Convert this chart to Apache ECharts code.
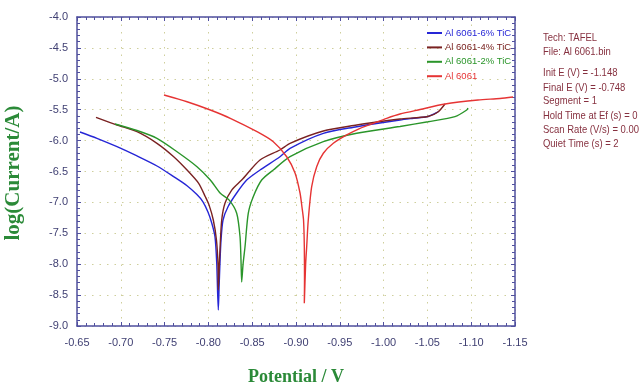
<!DOCTYPE html>
<html><head><meta charset="utf-8">
<script src="https://cdn.jsdelivr.net/npm/echarts@6/dist/echarts.min.js"></script>
<style>html,body{margin:0;padding:0;background:#fff}#c{width:639px;height:388px}</style>
</head><body><div id="c"></div>
<script>
// ---- data (potential in V, log of current in A) ----
const seriesNames = ['Al 6061-6% TiC', 'Al 6061-4% TiC', 'Al 6061-2% TiC', 'Al 6061'];
const seriesColors = ['#2626d6', '#7a2222', '#2a952a', '#e63434'];

const tic6E = [-0.6534,-0.6728,-0.6957,-0.7185,-0.7413,-0.7604,-0.7756,-0.7866,-0.7938,-0.7995,-0.8038,-0.8075,-0.8095,-0.8113,-0.8121,-0.8132,-0.8144,-0.8167,-0.8224,-0.8323,-0.8437,-0.8589,-0.8817,-0.8932,-0.9312,-0.9693,-0.9882,-1.0187,-1.0324,-1.0507,-1.0621];
const tic6L = [-5.861,-5.963,-6.099,-6.249,-6.411,-6.584,-6.730,-6.870,-6.990,-7.155,-7.333,-7.555,-7.981,-8.741,-8.417,-7.980,-7.610,-7.285,-7.070,-6.848,-6.638,-6.476,-6.261,-6.125,-5.882,-5.775,-5.731,-5.667,-5.642,-5.610,-5.537];

const tic4E = [-0.6717,-0.6957,-0.7185,-0.7413,-0.7604,-0.7756,-0.7889,-0.7965,-0.8007,-0.8056,-0.8092,-0.8110,-0.8113,-0.8122,-0.8132,-0.8152,-0.8190,-0.8266,-0.8380,-0.8589,-0.8817,-0.8932,-0.9312,-0.9693,-0.9882,-1.0187,-1.0507,-1.0621,-1.0701];
const tic4L = [-5.623,-5.748,-5.856,-6.044,-6.261,-6.476,-6.691,-6.908,-7.040,-7.285,-7.608,-8.010,-8.417,-8.100,-7.770,-7.285,-7.010,-6.800,-6.638,-6.314,-6.152,-6.044,-5.845,-5.748,-5.707,-5.650,-5.610,-5.537,-5.408];

const tic2E = [-0.6934,-0.7185,-0.7413,-0.7642,-0.7870,-0.8022,-0.8136,-0.8235,-0.8323,-0.8361,-0.8372,-0.8380,-0.8395,-0.8418,-0.8455,-0.8512,-0.8608,-0.8741,-0.8932,-0.9312,-0.9693,-1.0187,-1.0507,-1.0815,-1.0949,-1.0963];
const tic2L = [-5.731,-5.837,-5.963,-6.180,-6.422,-6.638,-6.853,-6.960,-7.176,-7.555,-7.930,-8.288,-8.010,-7.717,-7.176,-6.908,-6.638,-6.476,-6.261,-6.018,-5.882,-5.772,-5.694,-5.613,-5.505,-5.472];

const baseE = [-0.7493,-0.7756,-0.8022,-0.8250,-0.8555,-0.8741,-0.8894,-0.8989,-0.9046,-0.9068,-0.9086,-0.9095,-0.9097,-0.9095,-0.9110,-0.9122,-0.9140,-0.9179,-0.9236,-0.9312,-0.9426,-0.9579,-0.9731,-0.9882,-1.0035,-1.0187,-1.0416,-1.0701,-1.1078,-1.1329,-1.1477];
const baseL = [-5.262,-5.371,-5.505,-5.639,-5.856,-6.018,-6.261,-6.524,-6.848,-7.074,-7.285,-7.717,-8.256,-8.633,-8.000,-7.717,-7.285,-6.746,-6.422,-6.205,-6.044,-5.909,-5.801,-5.720,-5.639,-5.570,-5.497,-5.408,-5.343,-5.319,-5.294];

const infoLines = ['Tech: TAFEL', 'File: Al 6061.bin', 'Init E (V) = -1.148', 'Final E (V) = -0.748', 'Segment = 1', 'Hold Time at Ef (s) = 0', 'Scan Rate (V/s) = 0.001', 'Quiet Time (s) = 2'];
const infoY = [38, 52, 73, 88, 101, 116, 130, 144];

const xTitle = 'Potential / V';
const yTitle = 'log(Current/A)';

// ---- build ----
const zip = (a, b) => a.map((v, i) => [v, b[i]]);
const curves = [zip(tic6E, tic6L), zip(tic4E, tic4L), zip(tic2E, tic2L), zip(baseE, baseL)];

const axisColor = '#4f4f9e';
const labelColor = '#3f3f72';
const sans = "'Liberation Sans', Arial, sans-serif";

function xAx(pos, labels) {
  return {
    type: 'value', position: pos, min: -1.15, max: -0.65, interval: 0.05, inverse: true,
    axisLine: { show: true, onZero: false, lineStyle: { color: axisColor, width: 1.5 } },
    axisTick: { show: true, inside: true, length: 4, lineStyle: { color: axisColor } },
    minorTick: { show: true, splitNumber: 5, length: 3, lineStyle: { color: axisColor } },
    splitLine: { show: labels, lineStyle: { color: '#cfcf9c', type: [1.5, 6] } },
    axisLabel: { show: labels, color: labelColor, fontSize: 11, margin: 11, fontFamily: sans, formatter: v => v.toFixed(2) }
  };
}
function yAx(pos, labels) {
  return {
    type: 'value', position: pos, min: -9, max: -4, interval: 0.5,
    axisLine: { show: true, onZero: false, lineStyle: { color: axisColor, width: 1.5 } },
    axisTick: { show: true, inside: true, length: 4, lineStyle: { color: axisColor } },
    minorTick: { show: true, splitNumber: 5, length: 3, lineStyle: { color: axisColor } },
    splitLine: { show: labels, lineStyle: { color: '#cfcf9c', type: [1.5, 6] } },
    axisLabel: { show: labels, color: labelColor, fontSize: 11, margin: 9, fontFamily: sans, formatter: v => v.toFixed(1) }
  };
}

const graphics = [
  { type: 'text', x: 14, y: 173, rotation: Math.PI / 2,
    style: { text: yTitle, font: "bold 21px 'Liberation Serif', 'Times New Roman', serif", fill: '#2b8a38', align: 'center', verticalAlign: 'middle' } },
  { type: 'text', x: 296, y: 377,
    style: { text: xTitle, font: "bold 18px 'Liberation Serif', 'Times New Roman', serif", fill: '#2b8a38', align: 'center', verticalAlign: 'middle' } }
];
infoLines.forEach((t, i) => graphics.push({
  type: 'text', x: 543, y: infoY[i], scaleX: 0.86,
  style: { text: t, font: "11px 'Liberation Sans', Arial, sans-serif", fill: '#86303f', align: 'left', verticalAlign: 'middle' }
}));

const chart = echarts.init(document.getElementById('c'), null, { renderer: 'canvas' });
chart.setOption({
  animation: false,
  backgroundColor: '#ffffff',
  grid: { left: 77, top: 17, width: 438, height: 309, containLabel: false },
  xAxis: [xAx('bottom', true), xAx('top', false)],
  yAxis: [yAx('left', true), yAx('right', false)],
  legend: {
    orient: 'vertical', left: 427, top: 27, padding: 0, itemWidth: 15, itemHeight: 2, itemGap: 2.4, icon: 'rect',
    textStyle: { fontSize: 9.5, lineHeight: 12, fontFamily: sans, padding: [0, 0, 0, -2] },
    data: seriesNames.map((n, i) => ({ name: n, textStyle: { color: seriesColors[i] } }))
  },
  graphic: graphics,
  series: curves.map((d, i) => ({
    name: seriesNames[i], type: 'line', data: d, xAxisIndex: 0, yAxisIndex: 0,
    symbol: 'none', smooth: 0.25, color: seriesColors[i],
    lineStyle: { width: 1.4, color: seriesColors[i] }
  }))
});
</script></body></html>
